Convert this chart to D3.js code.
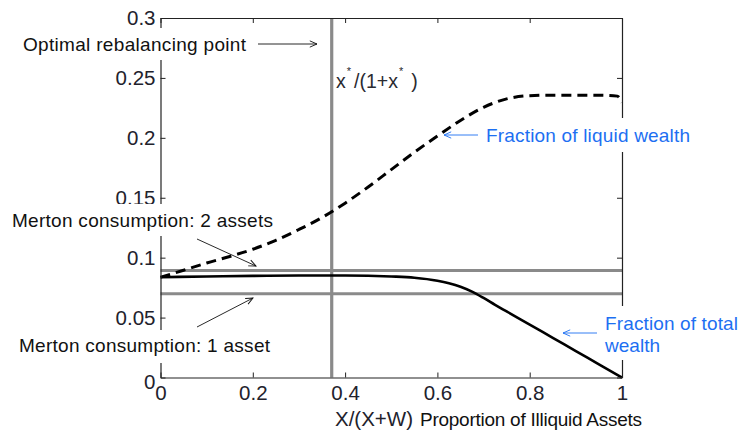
<!DOCTYPE html>
<html>
<head>
<meta charset="utf-8">
<script src="https://cdn.jsdelivr.net/npm/d3@7"></script>
<style>
  html, body { margin: 0; padding: 0; background: #fff; }
  svg { display: block; font-family: "Liberation Sans", Arial, Helvetica, sans-serif; }
</style>
</head>
<body>
<svg id="chart" width="744" height="432"></svg>
<script>
// Proportion of illiquid assets X/(X+W)
const xTicks = [0, 0.2, 0.4, 0.6, 0.8, 1];
const xTickLabels = ["0", "0.2", "0.4", "0.6", "0.8", "1"];
const yTicks = [0, 0.05, 0.1, 0.15, 0.2, 0.25, 0.3];
const yTickLabels = ["0", "0.05", "0.1", "0.15", "0.2", "0.25", "0.3"];

// Consumption as a fraction of liquid wealth (dashed)
const liquidX = [0, 0.05, 0.1, 0.15, 0.2, 0.25, 0.3, 0.35, 0.4, 0.45, 0.5, 0.55, 0.6, 0.65, 0.7, 0.75, 0.8, 0.85, 0.9, 0.95, 0.99, 1];
const liquidY = [0.0837, 0.0895, 0.0955, 0.101, 0.107, 0.1145, 0.1235, 0.1335, 0.1455, 0.159, 0.1735, 0.188, 0.2015, 0.2145, 0.2255, 0.2325, 0.2352, 0.2356, 0.2356, 0.2355, 0.2348, 0.2295];

// Consumption as a fraction of total wealth (solid)
const totalX = [0, 0.1, 0.2, 0.3, 0.4, 0.5, 0.55, 0.6, 0.625, 0.65, 0.675, 0.7, 0.725, 0.75, 0.8, 0.85, 0.9, 0.95, 1];
const totalY = [0.0837, 0.0843, 0.0848, 0.0851, 0.0851, 0.0843, 0.0833, 0.0808, 0.0787, 0.0758, 0.0717, 0.0664, 0.0606, 0.0551, 0.0442, 0.0331, 0.0221, 0.011, 0];

// Merton benchmarks and the rebalancing point
const mertonTwoAssets = 0.0893;
const mertonOneAsset = 0.0699;
const rebalancePoint = 0.371;

const svg = d3.select("#chart");
const x = d3.scaleLinear().domain([0, 1]).range([160.5, 622]);
const y = d3.scaleLinear().domain([0, 0.3]).range([377.5, 18]);

const tickColor = "#22222c";
const blue = "#1d6ff2";
const grey = "#8a8a8a";

// Benchmark lines
svg.append("g").selectAll("line").data([mertonTwoAssets, mertonOneAsset]).join("line")
  .attr("x1", x(0)).attr("x2", x(1))
  .attr("y1", d => y(d)).attr("y2", d => y(d))
  .attr("stroke", grey).attr("stroke-width", 3.2);

svg.append("line")
  .attr("x1", x(rebalancePoint)).attr("x2", x(rebalancePoint))
  .attr("y1", y(0.3)).attr("y2", y(0))
  .attr("stroke", grey).attr("stroke-width", 3.2);

// Curves
const line = d3.line().x(d => x(d[0])).y(d => y(d[1])).curve(d3.curveMonotoneX);

svg.append("path")
  .datum(totalX.map((v, i) => [v, totalY[i]]))
  .attr("d", line)
  .attr("fill", "none").attr("stroke", "#000").attr("stroke-width", 2.6);

svg.append("path")
  .datum(liquidX.map((v, i) => [v, liquidY[i]]))
  .attr("d", line)
  .attr("fill", "none").attr("stroke", "#000").attr("stroke-width", 3)
  .attr("stroke-dasharray", "10,6");

// Axes with inward ticks on all four sides
function styleAxis(g) {
  g.select(".domain").attr("stroke", "#222").attr("stroke-width", 1.2);
  g.selectAll(".tick line").attr("stroke", "#222");
  g.selectAll(".tick text").attr("fill", tickColor).attr("font-size", 20.5)
    .attr("font-family", "\"Liberation Sans\", Arial, sans-serif");
}

svg.append("g").attr("transform", `translate(0,${y(0)})`)
  .call(d3.axisBottom(x).tickValues(xTicks).tickFormat((d, i) => xTickLabels[i])
    .tickSizeInner(-5).tickSizeOuter(0).tickPadding(8))
  .call(styleAxis);

svg.append("g").attr("transform", `translate(${x(0)},0)`)
  .call(d3.axisLeft(y).tickValues(yTicks).tickFormat((d, i) => yTickLabels[i])
    .tickSizeInner(-5).tickSizeOuter(0).tickPadding(5))
  .call(styleAxis)
  .call(g => g.selectAll(".tick text").filter(d => d === 0).attr("dy", "0.55em"));

svg.append("g").attr("transform", `translate(0,${y(0.3)})`)
  .call(d3.axisTop(x).tickValues(xTicks).tickFormat("").tickSizeInner(-5).tickSizeOuter(0))
  .call(styleAxis);

svg.append("g").attr("transform", `translate(${x(1)},0)`)
  .call(d3.axisRight(y).tickValues(yTicks).tickFormat("").tickSizeInner(-5).tickSizeOuter(0))
  .call(styleAxis);

// Axis title
svg.append("text").attr("x", 335).attr("y", 426).attr("fill", tickColor)
  .attr("font-size", 20.5).attr("textLength", 78).attr("lengthAdjust", "spacing").text("X/(X+W)");
svg.append("text").attr("x", 420).attr("y", 426).attr("fill", "#111")
  .attr("font-size", 19).attr("textLength", 222).attr("lengthAdjust", "spacing")
  .text("Proportion of Illiquid Assets");

// Ratio label next to the rebalancing line
const ratio = svg.append("text").attr("x", 336).attr("y", 88).attr("fill", "#2a2a30").attr("font-size", 19.5);
ratio.append("tspan").text("x");
ratio.append("tspan").attr("font-size", 11).attr("dy", -13).attr("dx", 1).text("*");
ratio.append("tspan").attr("dy", 13).attr("dx", 3).text("/(1+x");
ratio.append("tspan").attr("font-size", 11).attr("dy", -13).attr("dx", 1).text("*");
ratio.append("tspan").attr("dy", 13).attr("dx", 8).text(")");

// Arrow markers
const defs = svg.append("defs");
function marker(id, color) {
  defs.append("marker").attr("id", id)
    .attr("viewBox", "0 0 10 10").attr("refX", 9).attr("refY", 5)
    .attr("markerWidth", 9).attr("markerHeight", 9).attr("markerUnits", "userSpaceOnUse")
    .attr("orient", "auto")
    .append("path").attr("d", "M1,1.5 L9,5 L1,8.5")
    .attr("fill", "none").attr("stroke", color).attr("stroke-width", 1);
}
marker("arrowBlack", "#111");
marker("arrowBlue", blue);

// Annotation text boxes (white background)
const notes = [
  { lines: [["Optimal rebalancing point", 223]], x: 23, y: 51, color: "#111", box: [12, 28, 242, 32] },
  { lines: [["Merton consumption: 2 assets", 261]], x: 12, y: 227, color: "#111", box: [6, 204, 274, 32] },
  { lines: [["Merton consumption: 1 asset", 251]], x: 19, y: 352, color: "#111", box: [10, 330, 266, 33] },
  { lines: [["Fraction of liquid wealth", 204]], x: 486, y: 142, color: blue, box: [482, 118, 214, 34] },
  { lines: [["Fraction of total", 133], ["wealth", 55]], x: 605, y: 330, color: blue, box: [600, 306, 144, 54] }
];
notes.forEach(n => {
  svg.append("rect").attr("x", n.box[0]).attr("y", n.box[1])
    .attr("width", n.box[2]).attr("height", n.box[3]).attr("fill", "#fff");
  n.lines.forEach(([s, w], i) => {
    svg.append("text").attr("x", n.x).attr("y", n.y + i * 22)
      .attr("fill", n.color).attr("font-size", 19)
      .attr("textLength", w).attr("lengthAdjust", "spacing").text(s);
  });
});

// Arrows
const arrows = [
  { from: [258, 44], to: [317, 44], id: "arrowBlack", color: "#111" },
  { from: [197, 239], to: [256, 266], id: "arrowBlack", color: "#111" },
  { from: [197, 327], to: [253, 298], id: "arrowBlack", color: "#111" },
  { from: [478, 135], to: [444, 135], id: "arrowBlue", color: blue },
  { from: [597, 333], to: [563, 333], id: "arrowBlue", color: blue }
];
svg.append("g").selectAll("line").data(arrows).join("line")
  .attr("x1", d => d.from[0]).attr("y1", d => d.from[1])
  .attr("x2", d => d.to[0]).attr("y2", d => d.to[1])
  .attr("stroke", d => d.color).attr("stroke-width", 0.9)
  .attr("marker-end", d => `url(#${d.id})`);
</script>
</body>
</html>
